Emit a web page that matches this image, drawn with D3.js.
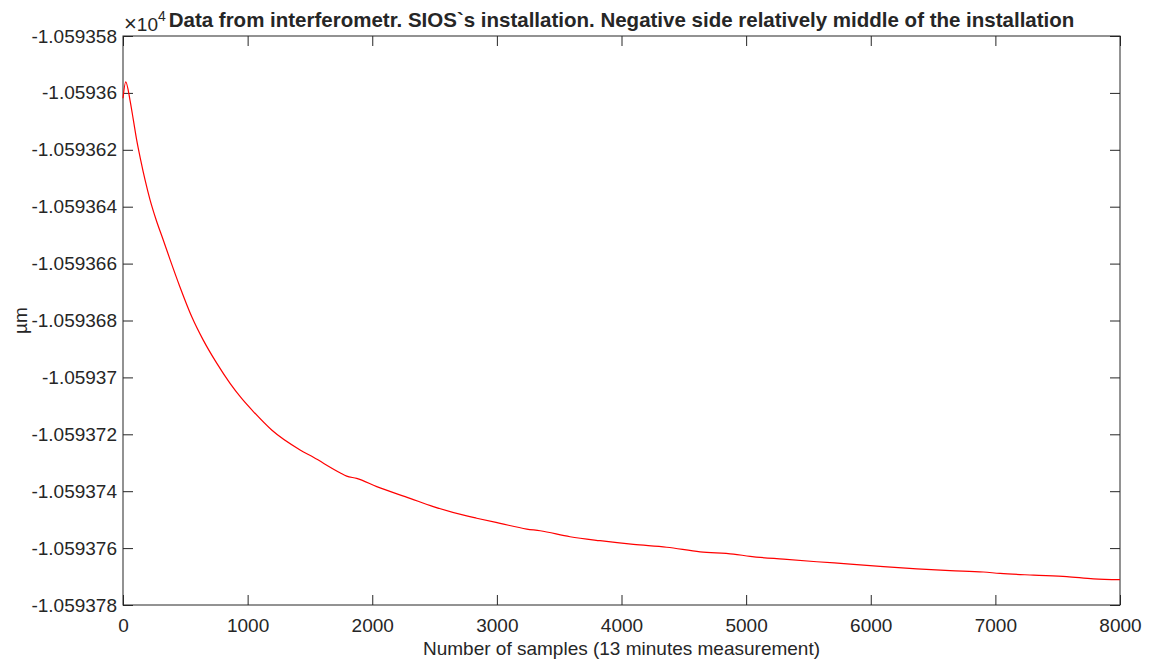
<!DOCTYPE html>
<html>
<head>
<meta charset="utf-8">
<script src="https://cdn.jsdelivr.net/npm/d3@7"></script>
<style>
  body { margin: 0; background: #fff; }
  text { font-family: "Liberation Sans", Arial, sans-serif; fill: #262626; }
</style>
</head>
<body>
<svg id="mainsvg" width="1150" height="664"></svg>
<script>
// samples (y in units of 1e4 µm, as the axis shows them)
const samples = [0, 22, 56, 83, 110, 142, 177, 217, 265, 323, 377, 457, 551, 644, 752,
    859, 952, 1046, 1193, 1421, 1528, 1741, 1795, 1875, 2036, 2303, 2490, 2758, 2838,
    3026, 3240, 3347, 3587, 3828, 4096, 4363, 4631, 4898, 5032, 5300, 5567, 5835, 6102,
    6370, 6637, 6904, 7038, 7306, 7573, 7787, 8000];
const values = [-1.05936019, -1.05935961, -1.05936025, -1.05936095, -1.05936166,
    -1.05936236, -1.05936306, -1.05936376, -1.05936445, -1.05936517, -1.05936585,
    -1.05936682, -1.05936786, -1.05936869, -1.05936950, -1.05937021, -1.05937074,
    -1.05937120, -1.05937185, -1.05937255, -1.05937281, -1.05937335, -1.05937347,
    -1.05937355, -1.05937384, -1.05937425, -1.05937454, -1.05937487, -1.05937495,
    -1.05937513, -1.05937533, -1.05937539, -1.05937560, -1.05937574, -1.05937587,
    -1.05937597, -1.05937613, -1.05937621, -1.05937629, -1.05937639, -1.05937648,
    -1.05937656, -1.05937665, -1.05937673, -1.05937679, -1.05937684, -1.05937689,
    -1.05937695, -1.05937700, -1.05937708, -1.05937711];
const xTicks = [0, 1000, 2000, 3000, 4000, 5000, 6000, 7000, 8000];
const yTicks = [-1.059378, -1.059376, -1.059374, -1.059372, -1.05937, -1.059368,
    -1.059366, -1.059364, -1.059362, -1.05936, -1.059358];

const svg = d3.select('#mainsvg');
const width = +svg.attr('width');
const height = +svg.attr('height');
const margin = { top: 36, bottom: 59, left: 123, right: 30 };
const innerWidth = width - margin.left - margin.right;
const innerHeight = height - margin.top - margin.bottom;
const g = svg.append('g')
    .attr('transform', `translate(${margin.left},${margin.top})`);

const x = d3.scaleLinear().domain([0, 8000]).range([0, innerWidth]);
const y = d3.scaleLinear().domain([-1.059378, -1.059358]).range([innerHeight, 0]);

const fmt = d3.formatLocale({ decimal: '.', thousands: ',', grouping: [3], currency: ['', ''], minus: '-' })
    .format('.7~g');

// ticks point inwards, mirrored on top and right like the matlab box
const tickLen = 10;
const axisStyle = sel => {
    sel.select('.domain').remove();
    sel.selectAll('line').attr('stroke', '#262626').attr('stroke-width', 1);
    sel.selectAll('text').attr('font-size', '19px').attr('fill', '#262626');
};
const noText = sel => sel.selectAll('text').remove();

g.append('g').attr('transform', `translate(0,${innerHeight})`)
    .call(d3.axisBottom(x).tickValues(xTicks).tickSize(-tickLen).tickPadding(14).tickFormat(d3.format('d')))
    .call(axisStyle);
g.append('g')
    .call(d3.axisTop(x).tickValues(xTicks).tickSize(-tickLen))
    .call(axisStyle).call(noText);
g.append('g')
    .call(d3.axisLeft(y).tickValues(yTicks).tickSize(-tickLen).tickPadding(6).tickFormat(fmt))
    .call(axisStyle);
g.append('g').attr('transform', `translate(${innerWidth},0)`)
    .call(d3.axisRight(y).tickValues(yTicks).tickSize(-tickLen))
    .call(axisStyle).call(noText);

g.append('rect')
    .attr('x', 0).attr('y', 0)
    .attr('width', innerWidth).attr('height', innerHeight)
    .attr('fill', 'none').attr('stroke', '#262626').attr('stroke-width', 1);

const data = samples.map((s, i) => ({ s: s, v: values[i] }));
const line = d3.line()
    .x(d => x(d.s))
    .y(d => y(d.v))
    .curve(d3.curveMonotoneX);
g.append('path')
    .datum(data)
    .attr('d', line)
    .attr('fill', 'none')
    .attr('stroke', '#ff0000')
    .attr('stroke-width', 1.2);

// labels
svg.append('text')
    .attr('x', margin.left + innerWidth / 2).attr('y', 27)
    .attr('text-anchor', 'middle')
    .attr('font-size', '20.5px').attr('font-weight', 'bold')
    .attr('fill', '#000')
    .text('Data from interferometr. SIOS`s installation. Negative side relatively middle of the installation');

const expo = svg.append('text')
    .attr('x', margin.left + 1).attr('y', 31)
    .attr('font-size', '19px');
expo.append('tspan').attr('font-size', '22px').text('×');
expo.append('tspan').text('10');
expo.append('tspan').attr('dy', -10).attr('font-size', '14px').text('4');

svg.append('text')
    .attr('x', margin.left + innerWidth / 2).attr('y', 655)
    .attr('text-anchor', 'middle')
    .attr('font-size', '19px')
    .text('Number of samples (13 minutes measurement)');

svg.append('text')
    .attr('transform', `translate(27,${margin.top + innerHeight / 2}) rotate(-90)`)
    .attr('text-anchor', 'middle')
    .attr('font-size', '19px')
    .text('µm');
</script>
</body>
</html>
